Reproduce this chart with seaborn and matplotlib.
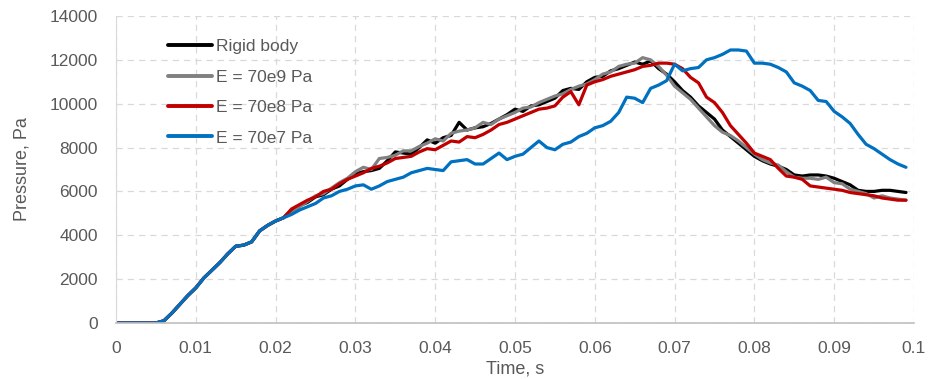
import matplotlib
matplotlib.use("Agg")
import matplotlib.pyplot as plt
import numpy as np
import pandas as pd
import seaborn as sns

# time samples, s (every 1 ms)
time_s = [i / 1000 for i in range(100)]

# first 22 samples are shared by all runs
common_start = [0, 0, 0, 0, 0, 0, 100, 450, 850, 1250, 1600, 2050, 2400, 2750,
                3150, 3500, 3550, 3700, 4200, 4450, 4650, 4800]

rigid_body = common_start + [
    5150, 5350, 5500, 5750, 5850, 6100, 6250, 6550, 6800, 6900, 6950, 7050, 7400, 7800,
    7750, 7700, 8000, 8350, 8200, 8450, 8550, 9150, 8800, 8900, 8950, 9100, 9300, 9500,
    9750, 9650, 9900, 9950, 10100, 10250, 10600, 10700, 10650, 11000, 11200, 11250,
    11500, 11600, 11750, 11900, 11800, 11950, 11600, 11350, 11000, 10600, 10300, 9900,
    9600, 9300, 8800, 8500, 8200, 7900, 7600, 7400, 7250, 7150, 7000, 6750, 6700, 6750,
    6750, 6700, 6600, 6450, 6300, 6050, 6000, 6000, 6050, 6050, 6000, 5950]

e_70e9 = common_start + [
    5000, 5300, 5550, 5800, 5900, 6150, 6400, 6600, 6900, 7100, 7000, 7500, 7550, 7650,
    7850, 7850, 8050, 8200, 8400, 8300, 8650, 8750, 8800, 8900, 9150, 9050, 9300, 9450,
    9600, 9800, 9850, 10050, 10200, 10350, 10450, 10650, 10800, 10900, 11100, 11350,
    11450, 11700, 11800, 11850, 12100, 12000, 11700, 11300, 10800, 10500, 10200, 9800,
    9400, 9000, 8700, 8550, 8300, 8000, 7700, 7450, 7300, 7200, 6900, 6650, 6600, 6600,
    6550, 6650, 6400, 6350, 6100, 6000, 5900, 5700, 5800, 5700, 5650, 5600]

e_70e8 = common_start + [
    5200, 5400, 5600, 5750, 6000, 6100, 6350, 6550, 6700, 6850, 7050, 7150, 7300, 7500,
    7550, 7600, 7800, 7950, 7900, 8100, 8300, 8250, 8500, 8450, 8600, 8800, 9050, 9150,
    9300, 9450, 9600, 9750, 9800, 9900, 10300, 10550, 9950, 10850, 11000, 11100, 11250,
    11350, 11450, 11550, 11700, 11750, 11850, 11850, 11800, 11600, 11200, 10950, 10300,
    10050, 9600, 9000, 8600, 8200, 7750, 7600, 7450, 7050, 6700, 6650, 6550, 6250, 6200,
    6150, 6100, 6050, 5950, 5900, 5850, 5800, 5700, 5650, 5600, 5600]

e_70e7 = common_start + [
    4950, 5150, 5300, 5450, 5700, 5800, 6000, 6100, 6250, 6300, 6100, 6250, 6450, 6550,
    6650, 6850, 6950, 7050, 7000, 6950, 7350, 7400, 7450, 7250, 7250, 7500, 7750, 7450,
    7600, 7700, 8000, 8300, 8000, 7900, 8150, 8250, 8500, 8650, 8900, 9000, 9200, 9600,
    10300, 10250, 10050, 10700, 10850, 11050, 11800, 11500, 11600, 11650, 12000, 12100,
    12250, 12450, 12450, 12400, 11850, 11850, 11800, 11650, 11450, 10950, 10800, 10600,
    10150, 10100, 9650, 9400, 9100, 8600, 8150, 7950, 7700, 7450, 7250, 7100]

series_labels = ["Rigid body", "E = 70e9 Pa", "E = 70e8 Pa", "E = 70e7 Pa"]
series_values = [rigid_body, e_70e9, e_70e8, e_70e7]
series_colors = ["#000000", "#808080", "#C00000", "#0070C0"]

x_ticks = [i / 100 for i in range(11)]
x_tick_labels = ["0", "0.01", "0.02", "0.03", "0.04", "0.05", "0.06", "0.07", "0.08", "0.09", "0.1"]
y_ticks = list(range(0, 14001, 2000))


def plot_pressure():
    sns.set_style("white")
    plt.rcParams["font.family"] = ["Liberation Sans", "DejaVu Sans"]

    fig, ax = plt.subplots(figsize=(9.31, 3.79), dpi=100)
    fig.subplots_adjust(left=0.1246, right=0.9817, top=0.9578, bottom=0.1478)

    for label, values, color in zip(series_labels, series_values, series_colors):
        df = pd.DataFrame({"t": time_s, "p": values})
        sns.lineplot(data=df, x="t", y="p", ax=ax, color=color, label=label,
                     linewidth=2.3, estimator=None, sort=False)

    ax.set_xlim(0, 0.1)
    ax.set_ylim(0, 14000)
    ax.set_xticks(x_ticks)
    ax.set_xticklabels(x_tick_labels)
    ax.set_yticks(y_ticks)
    ax.tick_params(axis="both", length=0, labelsize=12.5, labelcolor="#595959")
    ax.tick_params(axis="x", pad=13)
    ax.tick_params(axis="y", pad=13)

    ax.grid(True, linestyle=(0, (5, 4)), color="#d9d9d9", linewidth=0.9)
    ax.set_axisbelow(True)
    for side in ["top", "right"]:
        ax.spines[side].set_visible(False)
    ax.spines["left"].set_color("#d9d9d9")
    ax.spines["bottom"].set_color("#bfbfbf")
    ax.spines["bottom"].set_linewidth(1.2)

    ax.set_xlabel("Time, s", fontsize=13, color="#595959", labelpad=3)
    ax.set_ylabel("Pressure, Pa", fontsize=13, color="#595959", labelpad=14)

    leg = ax.legend(loc="upper left", bbox_to_anchor=(0.054, 0.953), frameon=False,
                    borderpad=0, handlelength=2.55, handletextpad=0.2,
                    labelspacing=0.88, fontsize=12.5)
    for text in leg.get_texts():
        text.set_color("#595959")
    for line in leg.get_lines():
        line.set_linewidth(2.8)

    fig.savefig("out.png", dpi=100)
    plt.close(fig)


if __name__ == "__main__":
    plot_pressure()
